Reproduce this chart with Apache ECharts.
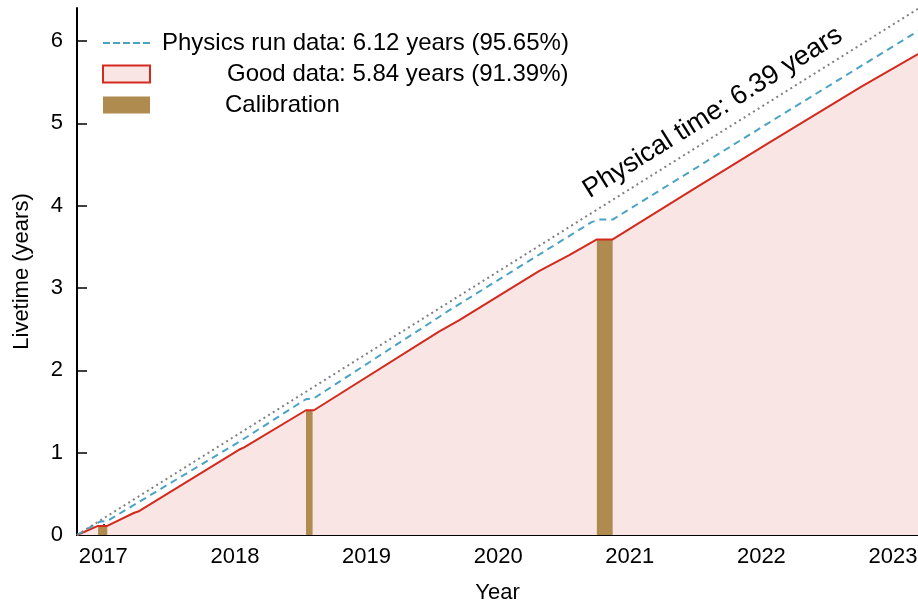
<!DOCTYPE html>
<html>
<head>
<meta charset="utf-8">
<script src="https://cdn.jsdelivr.net/npm/echarts@6/dist/echarts.min.js"></script>
<style>
html,body{margin:0;padding:0;background:#fff;}
#chart{width:918px;height:602px;}
</style>
</head>
<body>
<div id="chart"></div>
<script>
// Physical (calendar) time: start and end of the period
const physicalX = [2016.80, 2023.19];
const physicalY = [0, 6.39];

// Physics run data (cumulative livetime, years)
const runX = [2016.80, 2016.97, 2017.03, 2018.03, 2018.54, 2018.60, 2019.63, 2020.71, 2020.765, 2020.87, 2022.05, 2023.19];
const runY = [0, 0.16, 0.17, 1.13, 1.65, 1.66, 2.73, 3.80, 3.83, 3.83, 5.00, 6.12];

// Good data (cumulative livetime, years)
const goodX = [2016.80, 2016.96, 2017.03, 2017.235, 2017.265, 2018.03, 2018.07, 2018.54, 2018.60, 2019.55, 2019.705, 2020.31, 2020.54, 2020.75, 2020.87, 2021.50, 2022.05, 2022.76, 2023.19];
const goodY = [0, 0.11, 0.11, 0.27, 0.285, 1.035, 1.065, 1.515, 1.515, 2.47, 2.61, 3.205, 3.40, 3.59, 3.59, 4.215, 4.755, 5.445, 5.84];

// Calibration periods
const calibStart = [2016.96, 2018.54, 2020.75];
const calibEnd = [2017.03, 2018.59, 2020.87];
const calibHeight = [0.11, 1.515, 3.59];

// Axis ticks
const yearTicks = [2017, 2018, 2019, 2020, 2021, 2022, 2023];
const yTicks = [0, 1, 2, 3, 4, 5, 6];

const names = {
  run: 'Physics run data: 6.12 years (95.65%)',
  good: 'Good data: 5.84 years (91.39%)',
  calib: 'Calibration'
};

const zip = (xs, ys) => xs.map((x, i) => [x, ys[i]]);
const FONT = '"Liberation Sans", Arial, sans-serif';
const RED = '#d42a1e';
const PINK = '#f9e5e3';
const BLUE = '#4ba3c3';
const BROWN = '#b08b50';

const chart = echarts.init(document.getElementById('chart'), null, {renderer: 'canvas'});
chart.setOption({
  animation: false,
  backgroundColor: '#fff',
  textStyle: {fontFamily: FONT},
  grid: {left: 77, right: 0, top: 8, bottom: 67, containLabel: false, outerBoundsMode: 'none'},
  legend: {
    selectedMode: false,
    orient: 'vertical',
    left: 97,
    top: 26,
    itemWidth: 47,
    itemHeight: 17,
    itemGap: 7,
    formatter: function (name) {
      const sp = name === names.run ? 's1' : (name === names.good ? 's2' : 's3');
      return '{' + sp + '|}{t|' + name + '}';
    },
    textStyle: {
      fontFamily: FONT, fontSize: 24, color: '#000',
      rich: {
        s1: {width: 7},
        s2: {width: 72},
        s3: {width: 70},
        t: {fontFamily: FONT, fontSize: 24, color: '#000', lineHeight: 24}
      }
    },
    data: [
      {name: names.run, icon: 'path://M0,0h7v2h-7z M10,0h7v2h-7z M20,0h7v2h-7z M30,0h7v2h-7z M40,0h7v2h-7z', itemStyle: {color: BLUE}},
      {name: names.good, icon: 'rect', itemStyle: {color: PINK, borderColor: RED, borderWidth: 2}},
      {name: names.calib, icon: 'rect', itemStyle: {color: BROWN, borderWidth: 0}}
    ]
  },
  xAxis: {
    type: 'value',
    min: physicalX[0],
    max: physicalX[1],
    name: 'Year',
    nameLocation: 'middle',
    nameGap: 47,
    nameTextStyle: {fontFamily: FONT, fontSize: 22, color: '#000'},
    splitLine: {show: false},
    axisLine: {show: true, lineStyle: {color: '#000', width: 2}},
    axisTick: {show: true, inside: true, length: 11, customValues: yearTicks, lineStyle: {color: '#000', width: 1.5}},
    axisLabel: {customValues: yearTicks, formatter: v => String(Math.round(v)), fontFamily: FONT, fontSize: 22, color: '#000', margin: 11}
  },
  yAxis: {
    type: 'value',
    min: 0,
    max: 6.4,
    name: 'Livetime (years)',
    nameLocation: 'middle',
    nameGap: 44,
    nameRotate: 90,
    nameTextStyle: {fontFamily: FONT, fontSize: 22, color: '#000'},
    splitLine: {show: false},
    axisLine: {show: true, lineStyle: {color: '#000', width: 2}},
    axisTick: {show: true, inside: true, length: 10, customValues: yTicks, lineStyle: {color: '#000', width: 1.5}},
    axisLabel: {customValues: yTicks, fontFamily: FONT, fontSize: 22, color: '#000', margin: 14}
  },
  series: [
    {
      name: 'goodArea',
      type: 'line',
      data: zip(goodX, goodY),
      showSymbol: false,
      symbol: 'none',
      lineStyle: {width: 0, opacity: 0},
      areaStyle: {color: PINK, opacity: 1, origin: 'start'},
      z: 1,
      silent: true
    },
    {
      name: names.calib,
      type: 'custom',
      z: 2,
      data: calibStart.map((s, i) => [s, calibEnd[i], calibHeight[i]]),
      encode: {x: [0, 1], y: 2},
      itemStyle: {color: BROWN},
      renderItem: function (params, api) {
        const p0 = api.coord([api.value(0), api.value(2)]);
        const p1 = api.coord([api.value(1), 0]);
        return {
          type: 'rect',
          shape: {x: p0[0], y: p0[1], width: p1[0] - p0[0], height: p1[1] - p0[1]},
          style: {fill: BROWN}
        };
      }
    },
    {
      name: names.good,
      type: 'line',
      data: zip(goodX, goodY),
      showSymbol: false,
      symbol: 'none',
      lineStyle: {color: RED, width: 2},
      itemStyle: {color: RED},
      z: 3
    },
    {
      name: names.run,
      type: 'line',
      data: zip(runX, runY),
      showSymbol: false,
      symbol: 'none',
      lineStyle: {color: BLUE, width: 2, type: [7, 5]},
      itemStyle: {color: BLUE},
      z: 4
    },
    {
      name: 'physical',
      type: 'line',
      data: zip(physicalX, physicalY),
      showSymbol: false,
      symbol: 'none',
      lineStyle: {color: '#808080', width: 2, type: [2, 3.5]},
      z: 5,
      markPoint: {
        symbol: 'circle',
        symbolSize: 0,
        silent: true,
        data: [{coord: [2021.63, 5.13]}],
        label: {
          show: true,
          position: 'inside',
          rotate: 32,
          formatter: 'Physical time: 6.39 years',
          fontFamily: FONT,
          fontSize: 27,
          color: '#000'
        }
      }
    }
  ]
});
</script>
</body>
</html>
